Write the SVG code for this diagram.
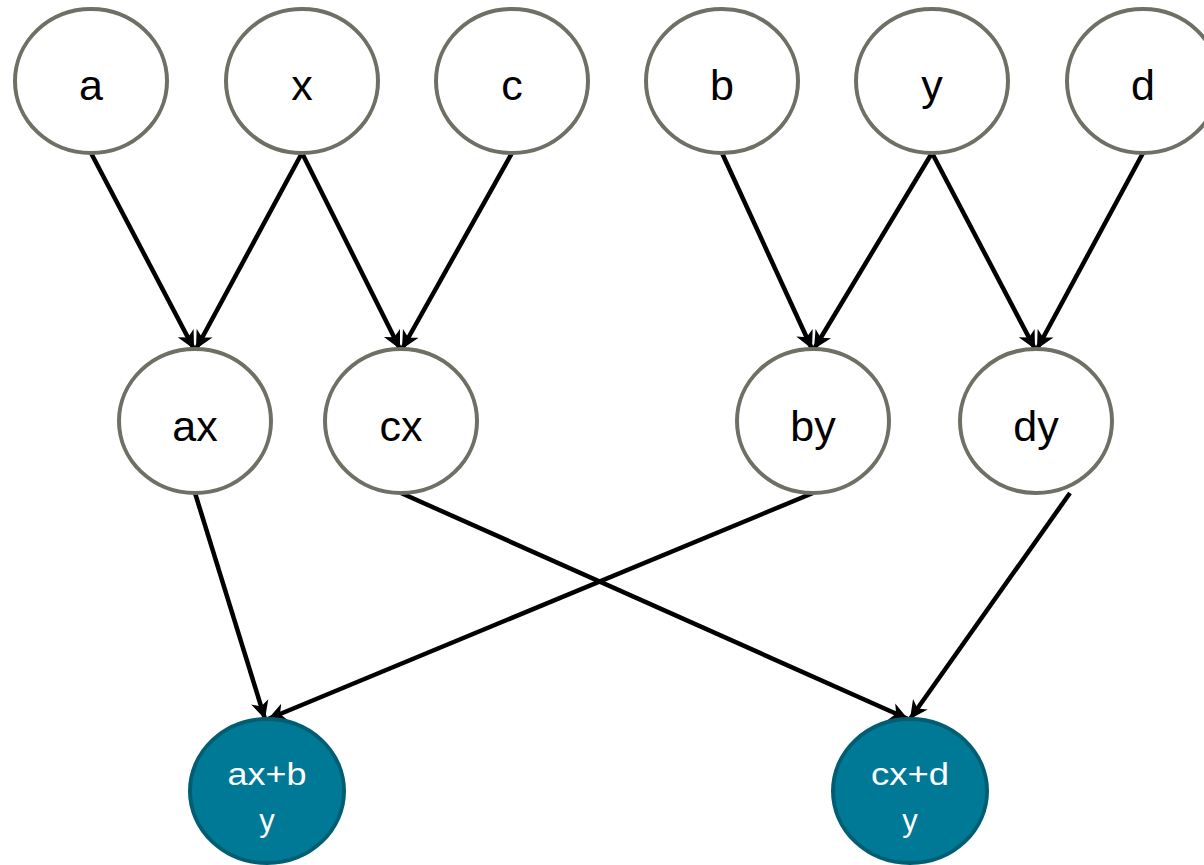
<svg xmlns="http://www.w3.org/2000/svg" width="1204" height="865" viewBox="0 0 1204 865">
<style>
.n ellipse{fill:#fff;stroke:#6f6f65;stroke-width:4}
.n text{font-family:"Liberation Sans",Arial,sans-serif;font-size:43px;fill:#000;text-anchor:middle}
.o ellipse{fill:#007996;stroke:#005e72;stroke-width:4}
.o text{font-family:"Liberation Sans",Arial,sans-serif;font-size:31px;fill:#fff;text-anchor:middle}
.e line{stroke:#000;stroke-width:4.5;marker-end:url(#ah)}
</style>
<defs>
<marker id="ah" markerWidth="20" markerHeight="20" refX="18" refY="10" orient="auto" markerUnits="userSpaceOnUse">
<path d="M0,1 L18,10 L0,19 L5,10 Z" fill="#000"/>
</marker>
</defs>
<g id="connectors" class="e">
<line x1="91" y1="153" x2="194" y2="349"/>
<line x1="302" y1="153" x2="196" y2="349"/>
<line x1="302" y1="153" x2="400" y2="349"/>
<line x1="512" y1="153" x2="402" y2="349"/>
<line x1="722" y1="153" x2="812" y2="349"/>
<line x1="932" y1="153" x2="814" y2="349"/>
<line x1="932" y1="153" x2="1035" y2="349"/>
<line x1="1143" y1="153" x2="1037" y2="349"/>
<line x1="195" y1="493" x2="265" y2="719"/>
<line x1="401" y1="493" x2="908" y2="719"/>
<line x1="813" y1="493" x2="268" y2="719"/>
<line x1="1070" y1="493" x2="910" y2="719"/>
</g>
<g id="a" class="n"><ellipse cx="91" cy="81" rx="76" ry="72"/><text x="91" y="100">a</text></g>
<g id="x" class="n"><ellipse cx="302" cy="81" rx="76" ry="72"/><text x="302" y="100">x</text></g>
<g id="c" class="n"><ellipse cx="512" cy="81" rx="76" ry="72"/><text x="512" y="100">c</text></g>
<g id="b" class="n"><ellipse cx="722" cy="81" rx="76" ry="72"/><text x="722" y="100">b</text></g>
<g id="y" class="n"><ellipse cx="932" cy="81" rx="76" ry="72"/><text x="932" y="100">y</text></g>
<g id="d" class="n"><ellipse cx="1143" cy="81" rx="76" ry="72"/><text x="1143" y="100">d</text></g>
<g id="ax" class="n"><ellipse cx="195" cy="421" rx="76" ry="72"/><text x="195" y="441">ax</text></g>
<g id="cx" class="n"><ellipse cx="401" cy="421" rx="76" ry="72"/><text x="401" y="441">cx</text></g>
<g id="by" class="n"><ellipse cx="813" cy="421" rx="76" ry="72"/><text x="813" y="441">by</text></g>
<g id="dy" class="n"><ellipse cx="1036" cy="421" rx="76" ry="72"/><text x="1036" y="441">dy</text></g>
<g id="axby" class="o"><ellipse cx="267" cy="791" rx="77" ry="72"/><text x="267" y="785" textLength="79" lengthAdjust="spacingAndGlyphs">ax+b</text><text x="267" y="831">y</text></g>
<g id="cxdy" class="o"><ellipse cx="910" cy="791" rx="77" ry="72"/><text x="910" y="785" textLength="78" lengthAdjust="spacingAndGlyphs">cx+d</text><text x="910" y="831">y</text></g>
</svg>
